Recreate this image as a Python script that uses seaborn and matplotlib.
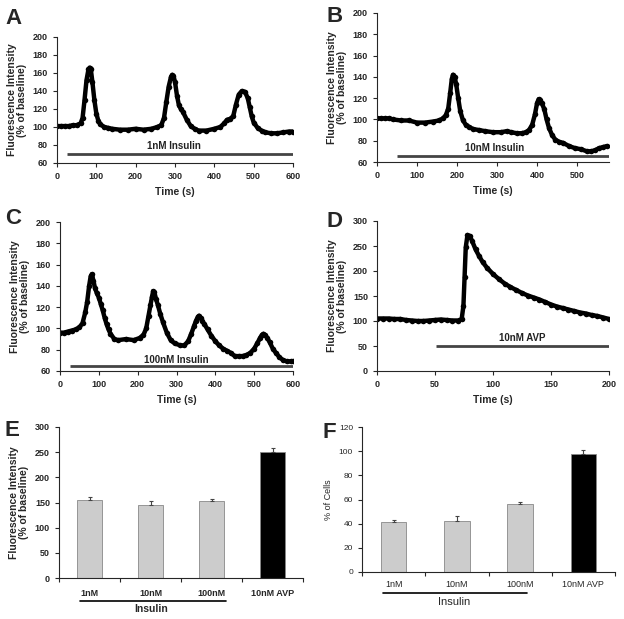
import numpy as np
import pandas as pd
import seaborn as sns
from matplotlib import pyplot as plt

# ---- traces (time in s, fluorescence as % of baseline) ----
t_a = [0, 10, 20, 30, 40, 50, 60, 65, 70, 75, 80, 83, 86, 90, 95, 100, 105, 110, 120, 130, 140, 160, 180, 200,
       220, 240, 255, 265, 272, 278, 284, 290, 293, 296, 300, 305, 310, 315, 320, 330, 340, 350, 360, 380, 400,
       415, 425, 432, 440, 448, 455, 462, 470, 478, 485, 490, 495, 500, 510, 520, 530, 545, 560, 575, 590, 600]
f_a = [101, 101, 101, 101, 102, 102, 104, 110, 130, 152, 164, 166, 164, 150, 130, 115, 107, 103, 100, 99, 98, 97, 97, 98,
       97, 98, 100, 102, 110, 128, 145, 156, 158, 157, 150, 135, 124, 120, 117, 108, 101, 98, 96, 96, 98,
       100, 104, 108, 109, 112, 125, 136, 140, 139, 132, 122, 112, 105, 99, 96, 94, 93, 93, 94, 95, 95]

t_b = [0, 10, 20, 30, 40, 60, 80, 100, 120, 140, 155, 165, 172, 178, 183, 187, 190, 194, 198, 203, 208, 215, 222,
       230, 240, 255, 270, 290, 310, 325, 335, 350, 362, 372, 380, 388, 395, 400, 404, 408, 412, 418, 424, 430,
       438, 446, 455, 465, 480, 495, 510, 525, 535, 545, 555, 565, 575]
f_b = [101, 101, 101, 101, 100, 99, 99, 97, 97, 98, 99, 101, 104, 110, 125, 138, 142, 140, 133, 120, 108, 99, 95,
       93, 91, 90, 89, 88, 88, 89, 88, 87, 87, 88, 90, 95, 105, 115, 119, 118, 115, 110, 100, 92,
       85, 81, 79, 78, 75, 73, 72, 70, 70, 71, 73, 74, 75]

t_c = [0, 10, 20, 30, 40, 50, 58, 65, 70, 75, 79, 82, 86, 90, 95, 100, 105, 110, 115, 120, 125, 130, 140, 150, 170,
       190, 205, 215, 222, 228, 233, 237, 240, 243, 247, 252, 258, 265, 275, 285, 295, 310, 320, 330, 338, 345,
       350, 355, 358, 362, 366, 372, 380, 390, 400, 410, 420, 430, 440, 450, 460, 470, 480, 490, 500, 508, 515,
       520, 524, 528, 534, 540, 548, 556, 565, 575, 585, 595, 600]
f_c = [96, 96, 97, 98, 99, 101, 105, 115, 125, 140, 149, 151, 145, 138, 133, 129, 123, 117, 110, 104, 99, 95, 90, 89, 90,
       89, 91, 94, 100, 112, 122, 130, 135, 134, 128, 122, 114, 106, 96, 89, 86, 84, 84, 88, 95, 102,
       107, 111, 112, 110, 107, 104, 99, 93, 88, 84, 81, 79, 77, 74, 74, 74, 75, 77, 81, 86, 91,
       94, 95, 94, 91, 87, 81, 77, 73, 70, 69, 69, 69]

t_d = [0, 5, 10, 15, 20, 25, 30, 35, 40, 45, 50, 55, 60, 65, 70, 73, 74.5, 75.5, 76.5, 78, 80, 82, 85, 88, 91, 95,
       100, 105, 110, 115, 120, 125, 130, 135, 140, 145, 150, 155, 160, 165, 170, 175, 180, 185, 190, 195, 200]
f_d = [105, 105, 105, 104, 104, 102, 101, 100, 100, 101, 102, 103, 102, 101, 101, 104, 130, 188, 247, 272, 270, 260,
       243, 230, 218, 206, 194, 184, 175, 168, 162, 156, 151, 147, 143, 138, 133, 129, 126, 123, 120, 117, 115,
       112, 110, 107, 104]

# ---- summary bars ----
groups = ["1nM", "10nM", "100nM", "10nM AVP"]
peak_mean = [155, 145, 153, 251]
peak_err = [5, 7, 4, 8]
cells_mean = [41, 42, 56, 98]
cells_err = [2, 4, 2, 3]
bar_colors = ["#cccccc", "#cccccc", "#cccccc", "#000000"]

sns.set_style("ticks")
plt.rcParams["font.family"] = ["Liberation Sans", "DejaVu Sans"]
plt.rcParams["font.weight"] = "bold"
plt.rcParams["axes.labelweight"] = "bold"
plt.rcParams["axes.linewidth"] = 0.8
plt.rcParams["xtick.major.size"] = 3
plt.rcParams["ytick.major.size"] = 3
plt.rcParams["xtick.labelsize"] = 6.5
plt.rcParams["ytick.labelsize"] = 6.5

fig = plt.figure(figsize=(6.24, 6.19), dpi=100)
W, H = 624.0, 619.0


def add_ax(l, t, r, b):
    return fig.add_axes([l / W, 1 - b / H, (r - l) / W, (b - t) / H])


ylab = "Fluorescence Intensity\n(% of baseline)"


def trace(ax, t, f, xlim, xticks, ylim, yticks, bar_from, bar_y, label, label_x, label_y):
    sns.lineplot(x=t, y=f, ax=ax, color="black", lw=3.2, marker="o", markersize=4,
                 markeredgewidth=0, sort=False)
    ax.plot([bar_from, xlim[1]], [bar_y, bar_y], color="#444444", lw=2, solid_capstyle="butt")
    ax.text(label_x, label_y, label, ha="center", va="center", fontsize=7, fontweight="bold", color="#222222")
    ax.set_xlim(*xlim)
    ax.set_ylim(*ylim)
    ax.set_xticks(xticks)
    ax.set_yticks(yticks)
    ax.set_xlabel("Time (s)", fontsize=7.5)
    ax.set_ylabel(ylab, fontsize=7.5, linespacing=1.0)
    sns.despine(ax=ax)


ax_a = add_ax(57, 37, 293, 163)
trace(ax_a, t_a, f_a, (0, 600), range(0, 601, 100), (60, 200), range(60, 201, 20), 25, 70, "1nM Insulin", 297, 78.5)

ax_b = add_ax(377, 13, 609, 162)
trace(ax_b, t_b, f_b, (0, 580), range(0, 501, 100), (60, 200), range(60, 201, 20), 50, 66, "10nM Insulin", 294, 73)

ax_c = add_ax(60, 222, 293, 371)
trace(ax_c, t_c, f_c, (0, 600), range(0, 601, 100), (60, 200), range(60, 201, 20), 26, 64.5, "100nM Insulin", 300, 70.5)

ax_d = add_ax(377, 221, 609, 371)
trace(ax_d, t_d, f_d, (0, 200), range(0, 201, 50), (0, 300), range(0, 301, 50), 51, 51, "10nM AVP", 125, 66)


def bars(ax, means, errs, ylim, yticks, bold, ylabel, line_y, ins_y, cat_y, ins_size):
    df = pd.DataFrame({"group": groups, "value": means})
    sns.barplot(data=df, x="group", y="value", hue="group", palette=bar_colors, legend=False,
                width=0.4, edgecolor="#888888", linewidth=0.6, ax=ax)
    ax.errorbar(range(4), means, yerr=[[0] * 4, errs], fmt="none", ecolor="#444444",
                elinewidth=0.8, capsize=1.5, capthick=0.8)
    ax.set_xlim(-0.5, 3.5)
    ax.set_ylim(*ylim)
    ax.set_yticks(yticks)
    wt = "bold" if bold else "normal"
    for lab in ax.get_yticklabels():
        lab.set_fontweight(wt)
        if not bold:
            lab.set_fontsize(6)
    ax.set_xticks(range(4))
    ax.set_xticklabels([])
    ax.tick_params(axis="x", which="major", length=0)
    ax.set_xticks(np.arange(-0.5, 3.6, 1), minor=True)
    ax.tick_params(axis="x", which="minor", length=3, width=0.8)
    for i, g in enumerate(groups):
        ax.text((i + 0.5) / 4, cat_y, g, transform=ax.transAxes, ha="center", va="center",
                fontsize=6.5, fontweight=wt)
    ax.set_xlabel("")
    if bold:
        ax.set_ylabel(ylabel, fontsize=7.5, linespacing=1.0)
    else:
        ax.set_ylabel(ylabel, fontsize=6.5, fontweight="normal")
    ax.plot(line_x, [line_y, line_y], transform=ax.transAxes, color="black", lw=1.2, clip_on=False)
    ax.text(ins_x, ins_y, "Insulin", transform=ax.transAxes, ha="center", va="center",
            fontsize=ins_size, fontweight="bold" if bold else "normal")
    sns.despine(ax=ax)


ax_e = add_ax(59, 427, 303, 578)
line_x, ins_x = [0.086, 0.684], 0.377
bars(ax_e, peak_mean, peak_err, (0, 300), range(0, 301, 50), True, ylab, -0.152, -0.205, -0.1, 7.5)

ax_f = add_ax(362, 427, 615, 572)
line_x, ins_x = [0.082, 0.654], 0.366
bars(ax_f, cells_mean, cells_err, (0, 120), range(0, 121, 20), False, "% of Cells", -0.143, -0.205, -0.083, 8)

for letter, x, y in [("A", 5, 8), ("B", 326, 6), ("C", 5, 208), ("D", 326, 211), ("E", 5, 420), ("F", 322, 422)]:
    fig.text(x / W, 1 - y / H, letter, fontsize=16, fontweight="bold", va="top", ha="left")

fig.savefig("out.png", dpi=100)
